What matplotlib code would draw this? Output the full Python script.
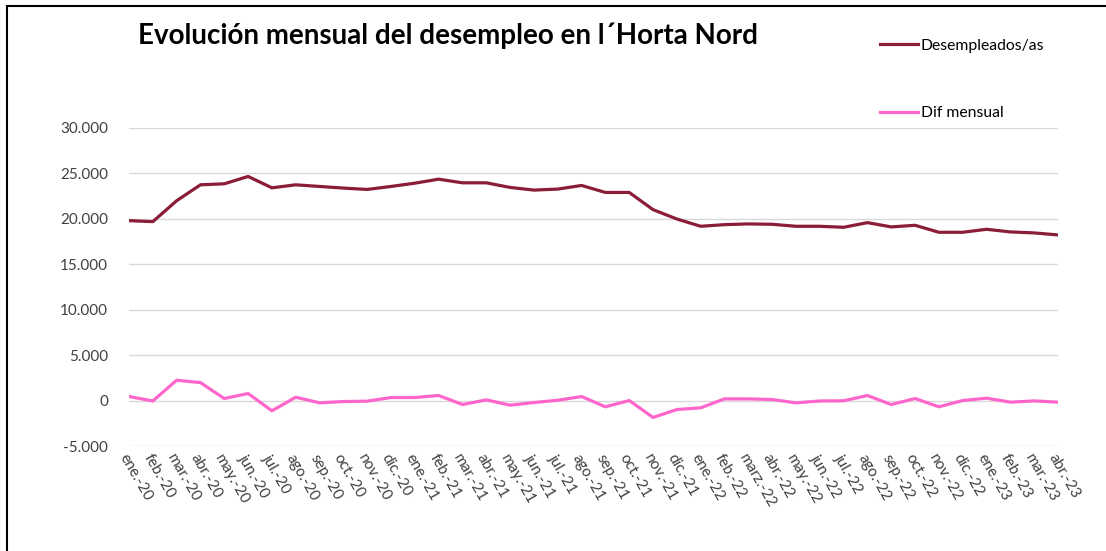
import matplotlib
matplotlib.use('Agg')
import matplotlib.pyplot as plt
from matplotlib.patches import Rectangle

# months, ene-20 .. abr-23
meses = ['ene.-20', 'feb.-20', 'mar.-20', 'abr.-20', 'may.-20', 'jun.-20',
         'jul.-20', 'ago.-20', 'sep.-20', 'oct.-20', 'nov.-20', 'dic.-20',
         'ene.-21', 'feb.-21', 'mar.-21', 'abr.-21', 'may.-21', 'jun.-21',
         'jul.-21', 'ago.-21', 'sep.-21', 'oct.-21', 'nov.-21', 'dic.-21',
         'ene.-22', 'feb.-22', 'marz.-22', 'abr.-22', 'may.-22', 'jun.-22',
         'jul.-22', 'ago.-22', 'sep.-22', 'oct.-22', 'nov.-22', 'dic.-22',
         'ene.-23', 'feb.-23', 'mar.-23', 'abr.-23']

desempleados = [19780, 19670, 21970, 23720, 23830, 24640, 23390, 23720,
                23540, 23360, 23210, 23540, 23900, 24340, 23940, 23940,
                23430, 23140, 23250, 23650, 22880, 22880, 20990, 19960,
                19160, 19340, 19420, 19380, 19160, 19160, 19050, 19560,
                19090, 19270, 18500, 18500, 18830, 18540, 18430, 18210]

dif_mensual = [440, -50, 2230, 1970, 220, 770, -1130, 365,
               -255, -110, -70, 330, 330, 550, -440, 70,
               -510, -220, 30, 440, -690, 0, -1860, -990,
               -800, 180, 180, 110, -255, -50, -30, 550,
               -440, 220, -690, 0, 260, -180, -40, -180]

color_des = '#8B1D38'
color_dif = '#FF66CC'

plt.rcParams['font.family'] = ['Lato', 'DejaVu Sans']

fig = plt.figure(figsize=(11.06, 5.51), dpi=100)
ax = fig.add_axes([129 / 1106, 1 - 446 / 551, (1058 - 129) / 1106, (446 - 127.7) / 551])

x = list(range(len(meses)))
ax.plot(x, desempleados, color=color_des, lw=2.3, label='Desempleados/as',
        solid_joinstyle='round')
ax.plot(x, dif_mensual, color=color_dif, lw=2.3, label='Dif mensual',
        solid_joinstyle='round')

ax.set_xlim(0, len(meses) - 1)
ax.set_ylim(-5000, 30000)
ax.set_yticks(range(-5000, 30001, 5000))
ax.set_yticklabels([f'{v:,}'.replace(',', '.') for v in range(-5000, 30001, 5000)])
ax.grid(axis='y', color='#D9D9D9', lw=1)
ax.set_axisbelow(True)
for s in ax.spines.values():
    s.set_visible(False)
ax.tick_params(axis='y', length=0, pad=15, labelsize=11, labelcolor='#404040')
ax.tick_params(axis='x', length=0, pad=4)
ax.set_xticks(x)
ax.set_xticklabels(meses, rotation=-60, ha='left', va='top',
                   rotation_mode='anchor', fontsize=11, color='#404040')

fig.text(138 / 1106, 1 - 36 / 551, 'Evolución mensual del desempleo en l´Horta Nord',
         fontsize=20, fontweight='bold', va='center', ha='left')

fig.legend(loc='upper left', bbox_to_anchor=(872 / 1106, 1 - 31 / 551),
           frameon=False, fontsize=11.3, borderpad=0, handlelength=2.4,
           handletextpad=0.2, labelspacing=3.4)

# outer frame (left and top edges visible)
fig.patches.append(Rectangle((7 / 1106, -0.1), 1.2, 1 - 6 / 551 + 0.1,
                             transform=fig.transFigure, fill=False,
                             edgecolor='black', lw=1.5))

fig.savefig('out.png', dpi=100)
